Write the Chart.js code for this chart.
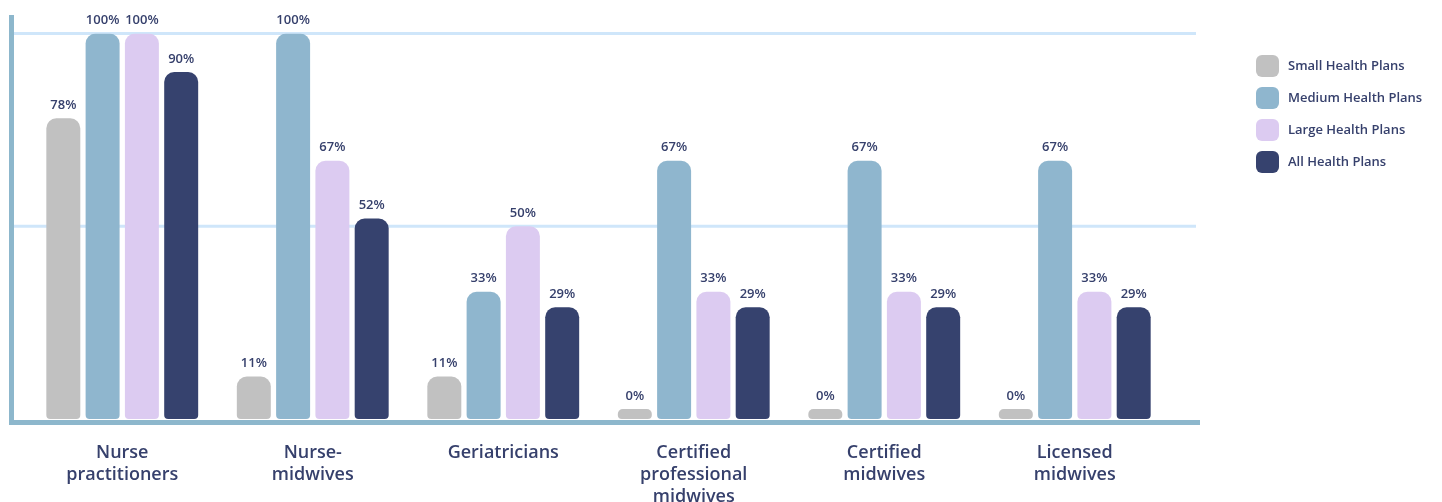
<!DOCTYPE html>
<html>
<head>
<meta charset="utf-8">
<script src="https://cdn.jsdelivr.net/npm/chart.js@4.4.1/dist/chart.umd.min.js"></script>
<style>
  html, body { margin: 0; padding: 0; background: #fff; }
  #wrap { width: 1442px; height: 502px; }
</style>
</head>
<body>
<div id="wrap"><canvas id="chart" width="1442" height="502"></canvas></div>
<script>
const categories = [
  ['Nurse', 'practitioners'],
  ['Nurse-', 'midwives'],
  ['Geriatricians'],
  ['Certified', 'professional', 'midwives'],
  ['Certified', 'midwives'],
  ['Licensed', 'midwives']
];
const seriesNames = ['Small Health Plans', 'Medium Health Plans', 'Large Health Plans', 'All Health Plans'];
const smallPlans = [78, 11, 11, 0, 0, 0];
const mediumPlans = [100, 100, 33, 67, 67, 67];
const largePlans = [100, 67, 50, 33, 33, 33];
const allPlans = [90, 52, 29, 29, 29, 29];
const gridValues = [50, 100];

const colors = ['#c1c1c1', '#8fb6ce', '#dccbf1', '#36426e'];
const textColor = '#36406c';
const fontFamily = '"Open Sans", sans-serif';

const seriesValues = [smallPlans, mediumPlans, largePlans, allPlans];

// lines, gridlines, value labels and legend
const decorations = {
  id: 'decorations',
  beforeDatasetsDraw(chart) {
    const ctx = chart.ctx;
    const y = chart.scales.y;
    ctx.save();
    ctx.strokeStyle = '#cfe6fa';
    ctx.lineWidth = 3;
    gridValues.forEach(v => {
      const py = y.getPixelForValue(v);
      ctx.beginPath();
      ctx.moveTo(13, py);
      ctx.lineTo(1196, py);
      ctx.stroke();
    });
    ctx.strokeStyle = '#8db7cc';
    ctx.lineWidth = 5;
    ctx.beginPath();
    ctx.moveTo(11.5, 15);
    ctx.lineTo(11.5, 425);
    ctx.stroke();
    ctx.beginPath();
    ctx.moveTo(9, 422.5);
    ctx.lineTo(1200, 422.5);
    ctx.stroke();
    ctx.restore();
  },
  afterDatasetsDraw(chart) {
    const ctx = chart.ctx;
    ctx.save();
    ctx.font = '600 13px ' + fontFamily;
    ctx.fillStyle = textColor;
    ctx.textAlign = 'center';
    ctx.textBaseline = 'middle';
    chart.data.datasets.forEach((ds, i) => {
      chart.getDatasetMeta(i).data.forEach((bar, j) => {
        ctx.fillText(ds.data[j] + '%', bar.x, bar.y - 13);
      });
    });

    // legend
    ctx.textAlign = 'left';
    chart.data.datasets.forEach((ds, i) => {
      const top = 55 + i * 32;
      ctx.fillStyle = ds.backgroundColor;
      ctx.beginPath();
      ctx.roundRect(1256, top, 23, 22, 6);
      ctx.fill();
      ctx.fillStyle = textColor;
      ctx.font = '600 13px ' + fontFamily;
      ctx.fillText(ds.label, 1288, top + 11);
    });
    ctx.restore();
  }
};

new Chart(document.getElementById('chart'), {
  type: 'bar',
  data: {
    labels: categories,
    datasets: seriesNames.map((name, i) => ({
      label: name,
      data: seriesValues[i],
      backgroundColor: colors[i],
      borderRadius: { topLeft: 10, topRight: 10, bottomLeft: 4, bottomRight: 4 },
      borderSkipped: false,
      minBarLength: 10,
      categoryPercentage: 0.825,
      barPercentage: 0.865
    }))
  },
  options: {
    responsive: false,
    animation: false,
    layout: { padding: { left: 27, right: 272, top: 33.5, bottom: 0 } },
    plugins: {
      legend: { display: false },
      tooltip: { enabled: false }
    },
    scales: {
      x: {
        grid: { display: false, drawTicks: false },
        border: { display: false },
        ticks: {
          color: textColor,
          font: { family: fontFamily, size: 18, weight: '600', lineHeight: 1.22 },
          padding: 23,
          maxRotation: 0,
          autoSkip: false
        },
        afterFit(scale) { scale.height = 83; }
      },
      y: {
        display: false,
        min: 0,
        max: 100
      }
    }
  },
  plugins: [decorations]
});
</script>
</body>
</html>
